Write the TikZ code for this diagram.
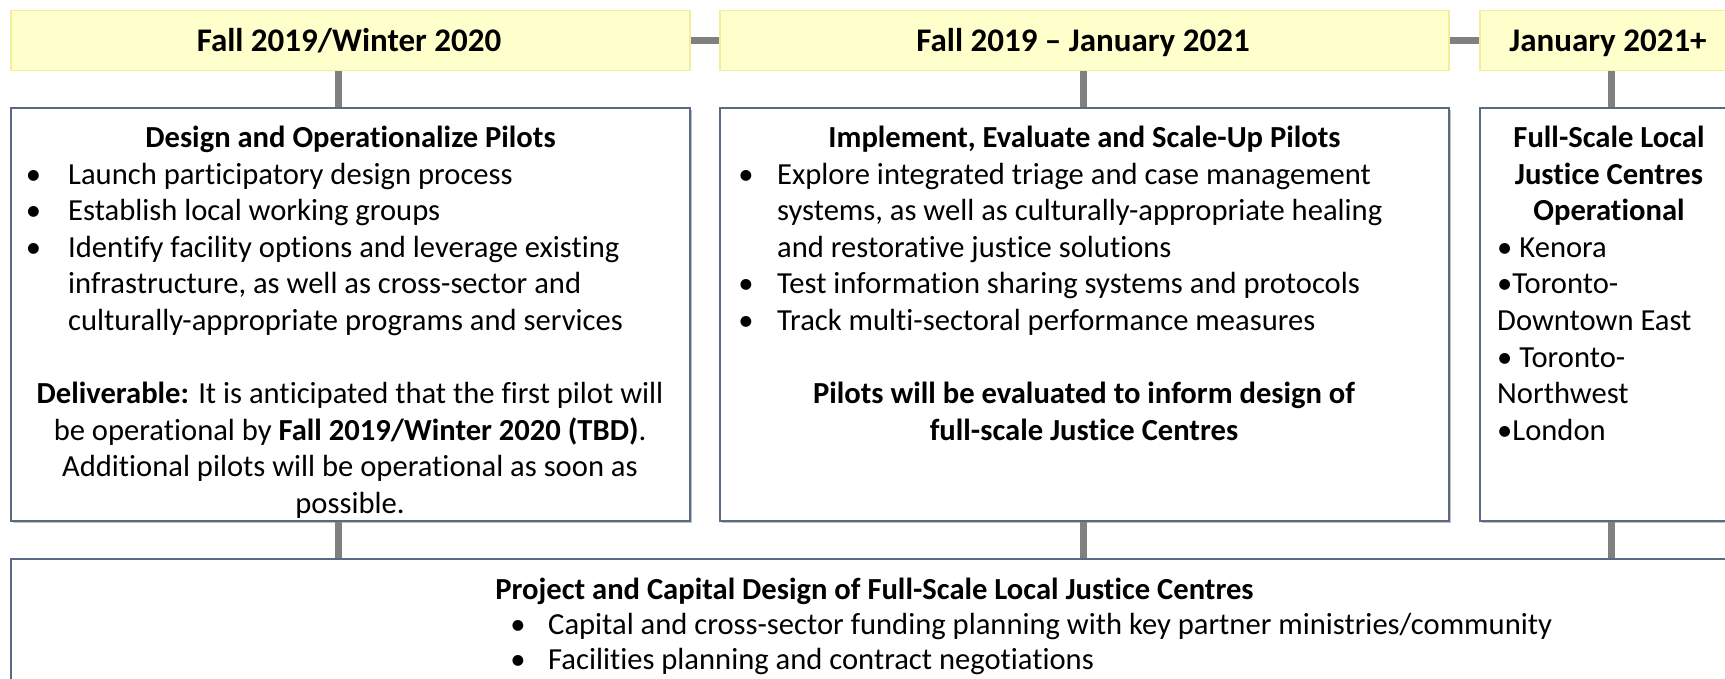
\documentclass[tikz,border=0pt]{standalone}
\usepackage{fontspec}
\setmainfont{Carlito}[Ligatures=NoCommon]
\usetikzlibrary{shadows}
\definecolor{periodfill}{HTML}{FFFFCC}
\definecolor{periodline}{HTML}{F3EE9E}
\definecolor{boxline}{HTML}{5A6A85}
\definecolor{linkgray}{HTML}{808080}
\tikzset{
  period/.style={draw=periodline, fill=periodfill, line width=1.5pt, inner sep=0pt},
  stage/.style={draw=boxline, fill=white, line width=1.3pt, inner sep=0pt,
    drop shadow={shadow xshift=1.5pt, shadow yshift=-2pt, fill=black!40, opacity=0.6}},
  link/.style={draw=linkgray, line width=7pt},
  body/.style={inner sep=0pt, font=\fontsize{30.6}{36.6}\selectfont},
  hd/.style={inner sep=0pt, font=\fontsize{30.6}{36.6}\selectfont\bfseries, anchor=base},
  phd/.style={inner sep=0pt, font=\fontsize{33}{38}\selectfont\bfseries, anchor=base},
  txt/.style={body, anchor=base west},
  ctr/.style={body, anchor=base},
  dot/.style={body, anchor=base},
}
\begin{document}
\begin{tikzpicture}[x=1pt,y=-1pt]
\fill[white] (0,0) rectangle (1725,678);
\useasboundingbox (0,0) rectangle (1725,678);
\clip (0,0) rectangle (1725,678);

% connector positions
\coordinate (c1) at (338,0);
\coordinate (c2) at (1083.5,0);
\coordinate (c3) at (1611,0);

% period headers
\node[period, minimum width=679pt, minimum height=60pt] (p1) at (350.5,40.5) {};
\node[period, minimum width=729pt, minimum height=60pt] (p2) at (1084.5,40.5) {};
\node[period, minimum width=258pt, minimum height=60pt] (p3) at (1609,40.5) {};
\node[phd] (p1t) at (349,51) {Fall 2019/Winter 2020};
\node[phd] (p2t) at (1083,51) {Fall 2019 – January 2021};
\node[phd] (p3t) at (1608,51) {January 2021+};

% stage boxes
\node[stage, minimum width=679pt, minimum height=413pt] (s1) at (350.5,314.5) {};
\node[stage, minimum width=729pt, minimum height=413pt] (s2) at (1084.5,314.5) {};
\node[stage, minimum width=258pt, minimum height=413pt] (s3) at (1609,314.5) {};
\node[stage, minimum width=1727pt, minimum height=170pt] (pc) at (874.5,644) {};

% connectors
\draw[link] (p1.east) -- (p2.west);
\draw[link] (p2.east) -- (p3.west);
\draw[link] (p1.south -| c1) -- (s1.north -| c1);
\draw[link] (p2.south -| c2) -- (s2.north -| c2);
\draw[link] (p3.south -| c3) -- (s3.north -| c3);
\draw[link] (s1.south -| c1) -- (pc.north -| c1);
\draw[link] (s2.south -| c2) -- (pc.north -| c2);
\draw[link] (s3.south -| c3) -- (pc.north -| c3);

% first stage
\node[hd] (s1h) at (350.5,147) {Design and Operationalize Pilots};
\node[dot] (s1d1) at (33.5,184) {•};
\node[txt] (s1a) at (68,184) {Launch participatory design process};
\node[dot] (s1d2) at (33.5,220) {•};
\node[txt] (s1b) at (68,220) {Establish local working groups};
\node[dot] (s1d3) at (33.5,257) {•};
\node[txt] (s1c) at (68,257) {Identify facility options and leverage existing};
\node[txt] (s1d) at (68,293) {infrastructure, as well as cross-sector and};
\node[txt] (s1e) at (68,330) {culturally-appropriate programs and services};
\node[ctr] (s1f) at (350,403) {\textbf{Deliverable:} It is anticipated that the first pilot will};
\node[ctr] (s1g) at (350,440) {be operational by \textbf{Fall 2019/Winter 2020 (TBD)}.};
\node[ctr] (s1h2) at (350,476) {Additional pilots will be operational as soon as};
\node[ctr] (s1i) at (350,513) {possible.};

% second stage
\node[hd] (s2h) at (1084.5,147) {Implement, Evaluate and Scale-Up Pilots};
\node[dot] (s2d1) at (746,184) {•};
\node[txt] (s2a) at (777,184) {Explore integrated triage and case management};
\node[txt] (s2b) at (777,220) {systems, as well as culturally-appropriate healing};
\node[txt] (s2c) at (777,257) {and restorative justice solutions};
\node[dot] (s2d2) at (746,293) {•};
\node[txt] (s2e) at (777,293) {Test information sharing systems and protocols};
\node[dot] (s2d3) at (746,330) {•};
\node[txt] (s2f) at (777,330) {Track multi-sectoral performance measures};
\node[hd] (s2g) at (1084,403) {Pilots will be evaluated to inform design of};
\node[hd] (s2i) at (1084,440) {full-scale Justice Centres};

% third stage
\node[hd] (s3h1) at (1609,147) {Full-Scale Local};
\node[hd] (s3h2) at (1609,184) {Justice Centres};
\node[hd] (s3h3) at (1609,220) {Operational};
\node[txt] (s3a) at (1497,257) {• Kenora};
\node[txt] (s3b) at (1497,293) {•Toronto-};
\node[txt] (s3c) at (1497,330) {Downtown East};
\node[txt] (s3d) at (1497,367) {• Toronto-};
\node[txt] (s3e) at (1497,403) {Northwest};
\node[txt] (s3f) at (1497,440) {•London};

% project and capital design
\node[hd] (pch) at (874.5,599) {Project and Capital Design of Full-Scale Local Justice Centres};
\node[dot] (pcd1) at (518,634) {•};
\node[txt] (pca) at (548,634) {Capital and cross-sector funding planning with key partner ministries/community};
\node[dot] (pcd2) at (518,669) {•};
\node[txt] (pcb) at (548,669) {Facilities planning and contract negotiations};
\end{tikzpicture}
\end{document}
